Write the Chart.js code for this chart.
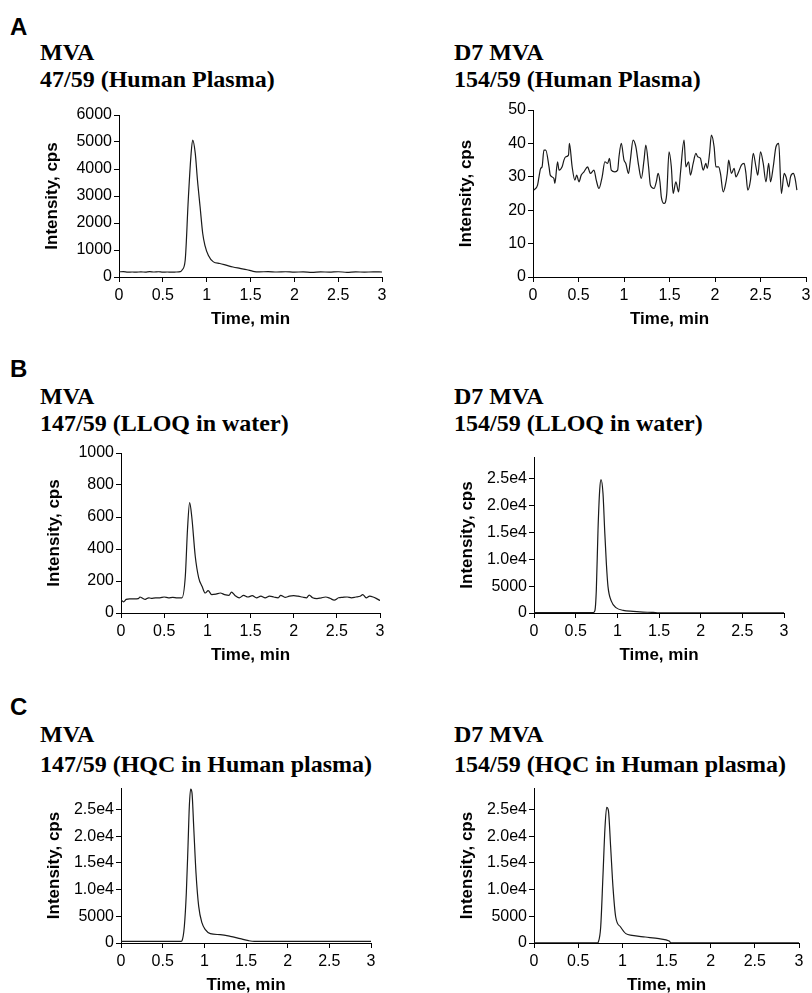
<!DOCTYPE html>
<html>
<head>
<meta charset="utf-8">
<script src="https://cdn.jsdelivr.net/npm/chart.js@4.4.0/dist/chart.umd.min.js"></script>
<style>
    body { margin: 0; background: #fff; width: 812px; height: 993px; overflow: hidden; position: relative; }
    .tag { position: absolute; font: bold 24px "Liberation Sans", Arial, sans-serif; line-height: 24px; color: #000; }
    .ttl { position: absolute; font: bold 24px "Liberation Serif", "Times New Roman", serif; line-height: 24px; color: #000; white-space: nowrap; }
    canvas { position: absolute; }
</style>
</head>
<body>
<div class="tag" style="left:10px;top:15px">A</div>
<div class="tag" style="left:10px;top:357px">B</div>
<div class="tag" style="left:10px;top:695px">C</div>

<div class="ttl" style="left:40px;top:40px">MVA</div>
<div class="ttl" style="left:40px;top:67px">47/59 (Human Plasma)</div>
<div class="ttl" style="left:454px;top:40px">D7 MVA</div>
<div class="ttl" style="left:454px;top:67px">154/59 (Human Plasma)</div>

<div class="ttl" style="left:40px;top:384px">MVA</div>
<div class="ttl" style="left:40px;top:411px">147/59 (LLOQ in water)</div>
<div class="ttl" style="left:454px;top:384px">D7 MVA</div>
<div class="ttl" style="left:454px;top:411px">154/59 (LLOQ in water)</div>

<div class="ttl" style="left:40px;top:722px">MVA</div>
<div class="ttl" style="left:40px;top:752px">147/59 (HQC in Human plasma)</div>
<div class="ttl" style="left:454px;top:722px">D7 MVA</div>
<div class="ttl" style="left:454px;top:752px">154/59 (HQC in Human plasma)</div>

<script>
// --- DATA (time in min, intensity in cps) ---
const timeTicks = [0, 0.5, 1, 1.5, 2, 2.5, 3];
const plasmaMvaTicks = [0, 1000, 2000, 3000, 4000, 5000, 6000];
const plasmaD7Ticks = [0, 10, 20, 30, 40, 50];
const lloqMvaTicks = [0, 200, 400, 600, 800, 1000];
const bigTicks = [0, 5000, 10000, 15000, 20000, 25000];

const plasmaMvaTime = [0, 0.05, 0.1, 0.15, 0.2, 0.25, 0.3, 0.35, 0.4, 0.45, 0.5, 0.55, 0.6, 0.65, 0.7, 0.72, 0.755, 0.79, 0.82, 0.84, 0.87, 0.895, 0.925, 0.955, 0.98, 1.02, 1.077, 1.15, 1.22, 1.3, 1.38, 1.46, 1.53, 1.6, 1.7, 1.8, 1.9, 2.0, 2.1, 2.2, 2.3, 2.4, 2.5, 2.6, 2.7, 2.8, 2.9, 3.0];
const plasmaMvaCps = [190, 200, 180, 185, 180, 190, 180, 200, 185, 195, 180, 185, 180, 185, 200, 260, 620, 2850, 4460, 5070, 4580, 3590, 2600, 1610, 1175, 800, 560, 500, 440, 370, 320, 270, 210, 190, 200, 185, 195, 180, 190, 175, 190, 180, 195, 175, 190, 180, 190, 185];

const plasmaD7Time = [0.01, 0.05, 0.066, 0.084, 0.1, 0.12, 0.14, 0.176, 0.19, 0.23, 0.24, 0.27, 0.286, 0.32, 0.34, 0.36, 0.39, 0.4, 0.43, 0.46, 0.48, 0.505, 0.53, 0.56, 0.6, 0.615, 0.63, 0.67, 0.695, 0.725, 0.76, 0.79, 0.82, 0.84, 0.86, 0.9, 0.93, 0.945, 0.97, 1.0, 1.02, 1.05, 1.07, 1.1, 1.13, 1.16, 1.19, 1.22, 1.24, 1.27, 1.29, 1.33, 1.355, 1.375, 1.395, 1.41, 1.44, 1.47, 1.495, 1.52, 1.54, 1.57, 1.6, 1.62, 1.66, 1.68, 1.71, 1.73, 1.76, 1.79, 1.81, 1.84, 1.87, 1.9, 1.915, 1.94, 1.96, 1.99, 2.01, 2.04, 2.06, 2.09, 2.11, 2.135, 2.15, 2.18, 2.21, 2.23, 2.26, 2.29, 2.32, 2.34, 2.36, 2.39, 2.42, 2.45, 2.47, 2.5, 2.53, 2.56, 2.59, 2.61, 2.64, 2.67, 2.7, 2.73, 2.76, 2.78, 2.81, 2.83, 2.86, 2.88, 2.9];
const plasmaD7Cps = [26, 27.5, 30, 32.5, 33, 38, 38, 33, 30.5, 29.5, 28, 34.5, 32, 33, 35, 36, 36.5, 40, 33, 29, 30.5, 28.5, 30.5, 31.5, 33, 32, 31, 32, 29, 26.5, 30, 34.5, 34, 35.5, 32, 31.5, 32, 36, 40, 35, 34, 31, 35, 41, 39, 33.5, 29.5, 35, 39.5, 33, 27.5, 26.5, 28.5, 31, 28.5, 24, 22, 25, 37.5, 33, 25, 28.5, 25.5, 31, 41, 33, 34.5, 30.5, 34, 37, 36, 35.5, 32, 34, 32.5, 37, 42.5, 39, 33, 33, 31, 25.5, 27, 31, 35, 31, 32.5, 30, 31.5, 33.5, 34, 31, 26, 29, 37, 33, 30.5, 37.5, 34, 28.5, 34, 28.5, 33, 39, 40, 25, 31, 30, 27, 30, 31, 29.5, 26];

const lloqMvaTime = [0, 0.03, 0.06, 0.1, 0.15, 0.2, 0.22, 0.25, 0.28, 0.32, 0.35, 0.4, 0.45, 0.5, 0.55, 0.6, 0.65, 0.705, 0.745, 0.77, 0.795, 0.82, 0.86, 0.9, 0.94, 0.975, 1.01, 1.05, 1.1, 1.15, 1.2, 1.25, 1.28, 1.32, 1.37, 1.42, 1.47, 1.52, 1.57, 1.62, 1.67, 1.72, 1.77, 1.82, 1.85, 1.9, 1.95, 2.0, 2.05, 2.1, 2.15, 2.18, 2.22, 2.27, 2.32, 2.37, 2.42, 2.47, 2.52, 2.57, 2.62, 2.67, 2.72, 2.77, 2.8, 2.84, 2.88, 2.92, 2.96, 3.0];
const lloqMvaCps = [83, 70, 85, 88, 88, 90, 100, 92, 85, 95, 92, 95, 95, 100, 95, 98, 95, 95, 230, 520, 690, 600, 355, 220, 165, 125, 140, 115, 118, 125, 115, 110, 130, 110, 95, 110, 100, 108, 95, 105, 95, 105, 100, 95, 110, 98, 105, 108, 105, 100, 95, 112, 95, 90, 95, 100, 92, 80, 95, 98, 100, 95, 100, 105, 115, 95, 105, 100, 90, 78];

const lloqD7Time = [0, 0.5, 0.71, 0.73, 0.748, 0.768, 0.788, 0.804, 0.828, 0.848, 0.868, 0.888, 0.928, 0.988, 1.07, 1.19, 1.27, 1.43, 1.5, 2.0, 2.5, 3.0];
const lloqD7Cps = [60, 60, 80, 400, 4300, 15400, 22800, 24800, 22200, 15400, 9300, 4900, 2200, 950, 500, 300, 200, 100, 40, 40, 40, 40];

const hqcMvaTime = [0, 0.5, 0.72, 0.732, 0.76, 0.784, 0.804, 0.82, 0.836, 0.852, 0.872, 0.9, 0.932, 0.972, 1.012, 1.072, 1.19, 1.31, 1.43, 1.53, 1.6, 2.0, 2.5, 3.0];
const hqcMvaCps = [300, 300, 300, 440, 3100, 9400, 18100, 25600, 28800, 28100, 21900, 13100, 6900, 3750, 2500, 1750, 1560, 1250, 810, 440, 300, 300, 300, 300];

const hqcD7Time = [0, 0.5, 0.72, 0.728, 0.755, 0.78, 0.804, 0.823, 0.842, 0.868, 0.894, 0.925, 0.98, 1.04, 1.11, 1.26, 1.415, 1.53, 1.55, 2.0, 2.5, 3.0];
const hqcD7Cps = [50, 50, 50, 190, 3000, 12300, 21700, 25400, 24800, 17900, 10500, 4860, 3000, 1750, 1430, 1120, 810, 370, 50, 50, 50, 50];

// --- LAYOUT (plot area edges in page pixels) ---
const Y_AXIS_W = 80, PAD_T = 14, PAD_R = 14, X_AXIS_H = 53;
const SANS = '"Liberation Sans", Arial, sans-serif';

const fmtTick = (v) => v >= 10000 ? (v / 10000).toFixed(1) + 'e4' : String(v);

const drawPanel = (box, times, cps, yMax, yTicks) => {
    const c = document.createElement('canvas');
    const w = box.x1 - box.x0 + Y_AXIS_W + PAD_R;
    const h = box.yBot - box.yTop + PAD_T + X_AXIS_H;
    c.width = w; c.height = h;
    c.style.width = w + 'px'; c.style.height = h + 'px';
    c.style.left = (box.x0 - Y_AXIS_W) + 'px';
    c.style.top = (box.yTop - PAD_T) + 'px';
    document.body.appendChild(c);

    new Chart(c, {
        type: 'line',
        data: { datasets: [{ data: times.map((t, i) => ({ x: t, y: cps[i] })), borderColor: '#1a1a1a', borderWidth: 1.2, pointRadius: 0, cubicInterpolationMode: 'monotone', fill: false }] },
        options: {
            responsive: false, animation: false, events: [],
            layout: { padding: { top: PAD_T, right: PAD_R, left: 0, bottom: 0 } },
            plugins: { legend: { display: false }, tooltip: { enabled: false } },
            scales: {
                x: {
                    type: 'linear', min: 0, max: 3,
                    afterBuildTicks: (s) => { s.ticks = timeTicks.map(v => ({ value: v })); },
                    afterFit: (s) => { s.height = X_AXIS_H; },
                    ticks: { color: '#000', padding: 4, maxRotation: 0, font: { family: SANS, size: 16 }, callback: (v) => String(v) },
                    grid: { drawOnChartArea: false, tickLength: 5, color: '#000' },
                    border: { color: '#000', width: 1 },
                    title: { display: true, text: 'Time, min', color: '#000', padding: { top: 4, bottom: 0 }, font: { family: SANS, size: 17, weight: 'bold' } }
                },
                y: {
                    min: 0, max: yMax,
                    afterBuildTicks: (s) => { s.ticks = yTicks.map(v => ({ value: v })); },
                    afterFit: (s) => { s.width = Y_AXIS_W; },
                    ticks: { color: '#000', padding: 2, font: { family: SANS, size: 16 }, callback: fmtTick },
                    grid: { drawOnChartArea: false, tickLength: 5, color: '#000' },
                    border: { color: '#000', width: 1 },
                    title: { display: true, text: 'Intensity, cps', color: '#000', padding: { top: 3, bottom: 0 }, font: { family: SANS, size: 17, weight: 'bold' } }
                }
            }
        }
    });
};

drawPanel({ x0: 119, x1: 382, yTop: 115, yBot: 277 }, plasmaMvaTime, plasmaMvaCps, 6000, plasmaMvaTicks);
drawPanel({ x0: 533, x1: 806, yTop: 110, yBot: 277 }, plasmaD7Time, plasmaD7Cps, 50, plasmaD7Ticks);
drawPanel({ x0: 121, x1: 380, yTop: 453, yBot: 613 }, lloqMvaTime, lloqMvaCps, 1000, lloqMvaTicks);
drawPanel({ x0: 534, x1: 784, yTop: 457, yBot: 613 }, lloqD7Time, lloqD7Cps, 29000, bigTicks);
drawPanel({ x0: 121, x1: 371, yTop: 788, yBot: 943 }, hqcMvaTime, hqcMvaCps, 29000, bigTicks);
drawPanel({ x0: 534, x1: 799, yTop: 788, yBot: 943 }, hqcD7Time, hqcD7Cps, 29000, bigTicks);
</script>
</body>
</html>
